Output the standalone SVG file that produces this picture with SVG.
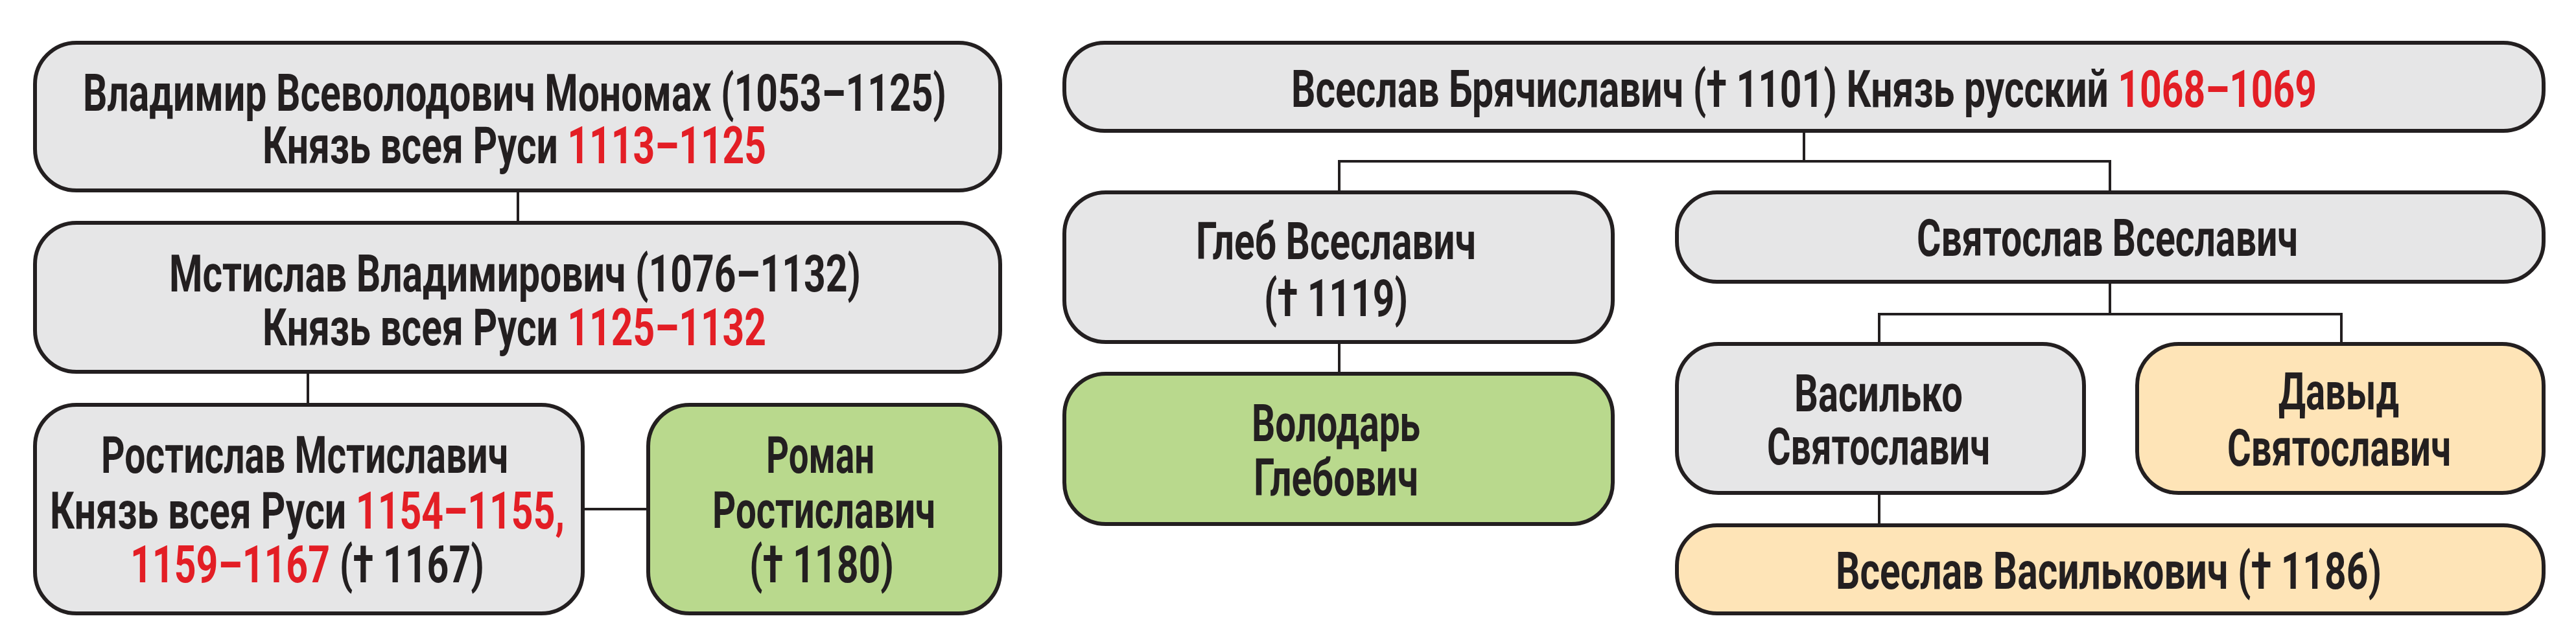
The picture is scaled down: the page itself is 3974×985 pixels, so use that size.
<svg xmlns="http://www.w3.org/2000/svg" width="3974" height="985" viewBox="0 0 3974 985">
<style>
.box{stroke:#231f20;stroke-width:6}
.g{fill:#e6e6e7}
.gr{fill:#b9d98d}
.be{fill:#fee4b7}
.c{stroke:#231f20;stroke-width:4;fill:none}
text{font-family:Roboto,"Liberation Sans","DejaVu Sans",sans-serif;font-weight:700;font-size:80px;fill:#231f20}
.r{fill:#e31e25}
</style>
<rect width="3974" height="985" fill="#ffffff"/>
<g id="connectors">
<path class="c" d="M799 294V344"/>
<path class="c" d="M475 574V625"/>
<path class="c" d="M899 786H1000"/>
<path class="c" d="M2783 202V249M2066 297V249H3255V297"/>
<path class="c" d="M2066 528V577"/>
<path class="c" d="M3255 435V485M2899 531V485H3612V531"/>
<path class="c" d="M2899 761V811"/>
</g>
<g id="vladimir">
<rect class="box g" x="54" y="66" width="1489" height="228" rx="64"/>
<text x="128" y="171" textLength="1332" lengthAdjust="spacingAndGlyphs">Владимир Всеволодович Мономах (1053–1125)</text>
<text x="405" y="252" textLength="777" lengthAdjust="spacingAndGlyphs">Князь всея Руси <tspan class="r">1113–1125</tspan></text>
</g>
<g id="mstislav">
<rect class="box g" x="54" y="344" width="1489" height="230" rx="64"/>
<text x="261" y="450" textLength="1067" lengthAdjust="spacingAndGlyphs">Мстислав Владимирович (1076–1132)</text>
<text x="405" y="533" textLength="777" lengthAdjust="spacingAndGlyphs">Князь всея Руси <tspan class="r">1125–1132</tspan></text>
</g>
<g id="rostislav">
<rect class="box g" x="54" y="625" width="845" height="322" rx="64"/>
<text x="156" y="730" textLength="628" lengthAdjust="spacingAndGlyphs">Ростислав Мстиславич</text>
<text x="77" y="816" textLength="794" lengthAdjust="spacingAndGlyphs">Князь всея Руси <tspan class="r">1154–1155,</tspan></text>
<text x="201" y="899" textLength="546" lengthAdjust="spacingAndGlyphs"><tspan class="r">1159–1167</tspan> († 1167)</text>
</g>
<g id="roman">
<rect class="box gr" x="1000" y="625" width="543" height="322" rx="64"/>
<text x="1182" y="730" textLength="167" lengthAdjust="spacingAndGlyphs">Роман</text>
<text x="1099" y="815" textLength="344" lengthAdjust="spacingAndGlyphs">Ростиславич</text>
<text x="1156" y="899" textLength="223" lengthAdjust="spacingAndGlyphs">(† 1180)</text>
</g>
<g id="vseslav-b">
<rect class="box g" x="1642" y="66" width="2282" height="136" rx="62"/>
<text x="1992" y="165" textLength="1582" lengthAdjust="spacingAndGlyphs">Всеслав Брячиславич († 1101) Князь русский <tspan class="r">1068–1069</tspan></text>
</g>
<g id="gleb">
<rect class="box g" x="1642" y="297" width="846" height="231" rx="64"/>
<text x="1845" y="400" textLength="432" lengthAdjust="spacingAndGlyphs">Глеб Всеславич</text>
<text x="1950" y="488" textLength="222" lengthAdjust="spacingAndGlyphs">(† 1119)</text>
</g>
<g id="volodar">
<rect class="box gr" x="1642" y="577" width="846" height="232" rx="64"/>
<text x="1931" y="681" textLength="260" lengthAdjust="spacingAndGlyphs">Володарь</text>
<text x="1934" y="765" textLength="254" lengthAdjust="spacingAndGlyphs">Глебович</text>
</g>
<g id="svyatoslav">
<rect class="box g" x="2587" y="297" width="1337" height="138" rx="62"/>
<text x="2957" y="395" textLength="588" lengthAdjust="spacingAndGlyphs">Святослав Всеславич</text>
</g>
<g id="vasilko">
<rect class="box g" x="2587" y="531" width="628" height="230" rx="64"/>
<text x="2768" y="635" textLength="260" lengthAdjust="spacingAndGlyphs">Василько</text>
<text x="2726" y="717" textLength="344" lengthAdjust="spacingAndGlyphs">Святославич</text>
</g>
<g id="davyd">
<rect class="box be" x="3297" y="531" width="627" height="230" rx="64"/>
<text x="3515" y="632" textLength="186" lengthAdjust="spacingAndGlyphs">Давыд</text>
<text x="3436" y="719" textLength="345" lengthAdjust="spacingAndGlyphs">Святославич</text>
</g>
<g id="vseslav-v">
<rect class="box be" x="2587" y="811" width="1337" height="136" rx="62"/>
<text x="2832" y="909" textLength="842" lengthAdjust="spacingAndGlyphs">Всеслав Василькович († 1186)</text>
</g>
</svg>
